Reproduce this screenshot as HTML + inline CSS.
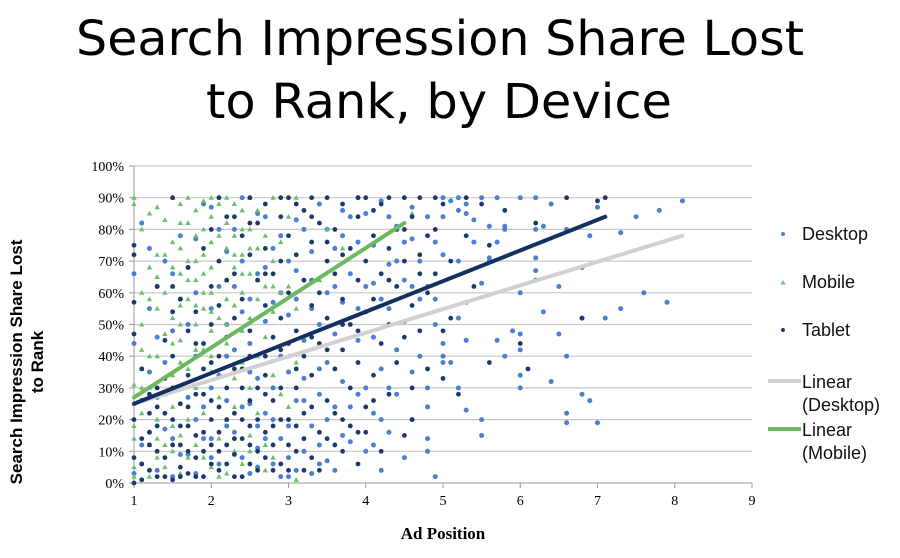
<!DOCTYPE html>
<html><head><meta charset="utf-8"><style>
html,body{margin:0;padding:0;background:#fff;width:900px;height:558px;overflow:hidden}
svg{display:block}
</style></head><body>
<svg id="chart" width="900" height="558" viewBox="0 0 900 558" xmlns="http://www.w3.org/2000/svg">
<g font-family="'DejaVu Sans','Liberation Sans',sans-serif" font-size="48" fill="#000" text-anchor="middle">
<text x="440" y="55" textLength="728" lengthAdjust="spacingAndGlyphs">Search Impression Share Lost</text>
<text x="439" y="118" textLength="466" lengthAdjust="spacingAndGlyphs">to Rank, by Device</text>
</g>
<g id="grid"></g>
<g id="axes"></g>
<g id="marks"></g>
<g id="trends"></g>
<g font-family="'Liberation Sans',sans-serif" font-weight="bold" font-size="17" text-anchor="middle">
<text transform="translate(22,362) rotate(-90)">Search Impression Share Lost</text>
<text transform="translate(43,362) rotate(-90)">to Rank</text>
</g>
<text x="443" y="539" font-family="'Liberation Serif',serif" font-weight="bold" font-size="17" text-anchor="middle">Ad Position</text>
<g id="legend" font-family="'Liberation Sans',sans-serif" font-size="18" fill="#111">
<g><circle cx="783" cy="234" r="2" fill="#4a7fd4"/><text x="802" y="240">Desktop</text></g>
<g><polygon points="783,280 785.5,284.5 780.5,284.5" fill="#6abf69"/><text x="802" y="288">Mobile</text></g>
<g><circle cx="783" cy="330" r="2" fill="#1b3a6b"/><text x="802" y="336">Tablet</text></g>
<g><line x1="768" y1="381" x2="801" y2="381" stroke="#d0d0d0" stroke-width="4"/><text x="802" y="388">Linear</text><text x="802" y="411">(Desktop)</text></g>
<g><line x1="768" y1="429" x2="801" y2="429" stroke="#6cb85e" stroke-width="4"/><text x="802" y="436">Linear</text><text x="802" y="459">(Mobile)</text></g>
</g>
</svg>
<script>
const xTicks=[1,2,3,4,5,6,7,8,9];
const yTicks=[0,10,20,30,40,50,60,70,80,90,100];
const desktopPoints=[[5.0,90],[5.1,89],[5.2,90],[5.3,88],[5.5,90],[5.7,90],[6.0,90],[6.2,90],[6.4,88],[7.0,87],[7.5,84],[7.8,86],[8.1,89],[7.3,79],[6.9,78],[6.6,80],[6.2,80],[6.3,81],[5.8,81],[5.8,80],[5.6,81],[5.0,84],[5.2,86],[5.3,85],[5.4,83],[5.6,71],[5.6,70],[6.2,71],[6.2,67],[6.2,64],[6.0,60],[5.7,76],[5.4,76],[5.2,70],[5.0,72],[5.5,63],[5.3,57],[6.3,54],[6.5,47],[7.3,55],[7.6,60],[7.9,57],[6.0,47],[6.0,42],[6.0,34],[5.9,48],[5.8,40],[5.0,44],[5.0,40],[5.0,38],[5.3,45],[5.1,38],[5.5,20],[5.5,15],[5.3,23],[6.0,30],[6.4,32],[6.8,28],[6.9,26],[7.0,19],[6.6,22],[6.6,19],[4.8,30],[4.8,24],[4.8,14],[4.8,10],[4.9,2],[4.5,8],[4.4,28],[4.3,30],[4.2,36],[4.1,46],[4.3,55],[4.5,64],[4.7,70],[4.6,77],[4.4,81],[4.2,89],[4.0,85],[3.9,76],[3.8,66],[3.7,57],[3.6,47],[3.5,38],[3.4,28],[3.3,18],[3.2,10],[3.1,4],[3.0,2],[2.8,6],[2.6,11],[2.5,3],[2.9,14],[2.7,22],[2.6,33],[2.5,44],[2.4,54],[2.3,62],[2.2,73],[2.1,80],[2.0,87],[1.8,77],[1.7,68],[1.6,58],[1.5,48],[1.4,38],[1.3,27],[1.2,16],[1.1,6],[1.0,3],[1.0,66],[1.1,82],[1.3,46],[1.5,14],[1.7,9],[1.9,24],[2.1,34],[2.3,42],[2.5,25],[2.7,51],[2.9,60],[3.1,67],[3.3,73],[3.5,80],[3.7,86],[3.9,90],[4.1,63],[4.3,69],[4.5,51],[4.7,40],[4.2,20],[3.8,13],[3.6,24],[3.4,36],[3.2,45],[3.0,53],[2.8,74],[2.6,85],[2.4,90],[2.2,18],[2.0,8],[1.8,40],[1.6,30],[1.4,70],[1.2,55],[3.0,35],[3.3,55],[3.6,62],[3.9,45],[4.0,30],[4.4,42],[4.6,35],[4.6,20],[4.9,58],[4.1,12],[3.7,32],[3.5,7],[2.9,40],[2.7,68],[3.1,83],[3.4,88],[4.6,87],[4.8,62],[4.9,50],[5.2,30],[5.2,52],[5.7,45],[6.6,40],[6.8,52],[7.1,52],[6.5,62],[6.8,68]];
const desktopExtra=[[1.0,44],[1.1,12],[1.2,35],[1.3,4],[1.4,17],[1.5,2],[1.6,9],[1.7,27],[1.8,3],[1.9,14],[2.0,30],[2.1,6],[2.2,40],[2.3,16],[2.4,24],[2.5,35],[2.6,5],[2.7,14],[2.8,30],[2.9,2],[3.0,18],[3.1,26],[3.2,33],[3.3,3],[3.4,12],[3.5,20],[3.6,4],[3.7,15],[3.8,24],[3.9,28],[4.0,10],[4.1,22],[4.2,4],[4.3,16],[2.0,55],[2.1,62],[2.2,50],[2.3,80],[2.4,70],[2.5,58],[2.6,66],[2.7,84],[2.8,57],[2.9,78],[3.0,70],[3.1,58],[3.2,80],[3.3,64],[3.4,50],[3.5,60],[3.6,74],[3.7,78],[3.8,84],[3.9,55],[4.0,62],[4.1,75],[4.2,58],[4.3,84],[4.4,70],[4.5,76],[4.6,62],[4.7,58],[4.8,84],[4.9,76],[1.5,66],[1.6,78],[1.7,50],[1.8,60],[1.9,88],[1.3,62],[1.2,74],[2.2,26],[2.6,18],[3.0,8],[3.4,6],[1.8,20],[2.0,14],[2.4,8],[2.8,20],[3.2,26]];
const mobilePoints=[[1.0,90],[1.0,88],[1.1,80],[1.2,85],[1.3,87],[1.5,90],[1.6,88],[1.7,90],[1.9,89],[2.0,90],[2.2,90],[2.3,88],[2.5,90],[2.6,86],[2.8,90],[3.0,84],[3.1,90],[1.0,31],[1.0,25],[1.0,18],[1.0,5],[1.0,2],[1.1,50],[1.1,42],[1.1,36],[1.2,40],[1.2,30],[1.2,12],[1.2,2],[1.3,72],[1.3,65],[1.3,55],[1.3,20],[1.3,8],[1.4,83],[1.4,60],[1.4,47],[1.4,28],[1.4,5],[1.5,76],[1.5,68],[1.5,62],[1.5,52],[1.5,34],[1.5,24],[1.5,10],[1.6,74],[1.6,66],[1.6,45],[1.6,38],[1.6,15],[1.6,3],[1.7,82],[1.7,70],[1.7,58],[1.7,20],[1.7,8],[1.8,86],[1.8,78],[1.8,64],[1.8,50],[1.8,30],[1.8,12],[1.9,72],[1.9,66],[1.9,55],[1.9,42],[1.9,22],[2.0,84],[2.0,76],[2.0,60],[2.0,48],[2.0,35],[2.0,5],[2.1,88],[2.1,70],[2.1,52],[2.1,27],[2.1,14],[2.2,82],[2.2,74],[2.2,64],[2.2,44],[2.2,20],[2.2,3],[2.3,78],[2.3,68],[2.3,56],[2.3,33],[2.3,10],[2.4,86],[2.4,72],[2.4,60],[2.4,48],[2.4,38],[2.4,6],[2.5,80],[2.5,66],[2.5,52],[2.5,30],[2.5,15],[2.6,74],[2.6,58],[2.6,40],[2.6,22],[2.7,78],[2.7,62],[2.7,46],[2.7,12],[2.8,70],[2.8,54],[2.8,34],[2.8,8],[2.9,76],[2.9,60],[2.9,28],[3.0,62],[3.0,40],[3.0,24],[3.1,55],[3.1,38],[3.1,1],[3.4,64],[3.5,80],[3.7,74],[4.6,85],[1.1,60],[1.2,68],[2.0,68],[1.9,80]];
const mobileExtra=[[1.0,14],[1.1,22],[1.2,58],[1.3,40],[1.4,72],[1.5,44],[1.6,56],[1.7,64],[1.8,70],[1.9,60],[2.0,54],[2.1,78],[2.2,58],[2.3,72],[2.4,66],[2.5,74],[1.6,82],[1.8,56],[2.0,40],[1.7,36],[1.5,18],[1.4,12],[1.9,8],[2.1,2],[2.3,24],[2.5,10],[2.7,4],[1.1,30],[1.3,14],[2.6,64],[2.8,62],[2.4,80],[2.2,50],[1.6,50],[1.8,42]];
const tabletPoints=[[1.0,75],[1.0,72],[1.0,57],[1.0,47],[1.0,0],[1.1,26],[1.1,14],[1.1,1],[1.2,22],[1.2,12],[1.2,4],[1.3,30],[1.3,18],[1.3,2],[1.4,45],[1.4,33],[1.4,8],[1.5,90],[1.5,62],[1.5,40],[1.5,20],[1.5,1],[1.6,58],[1.6,25],[1.6,12],[1.6,5],[1.7,68],[1.7,34],[1.7,18],[1.7,3],[1.8,54],[1.8,44],[1.8,15],[1.8,8],[1.9,74],[1.9,28],[1.9,10],[1.9,2],[2.0,62],[2.0,50],[2.0,38],[2.0,20],[2.0,6],[2.1,70],[2.1,56],[2.1,16],[2.1,4],[2.2,84],[2.2,64],[2.2,46],[2.2,30],[2.2,12],[2.3,66],[2.3,52],[2.3,22],[2.3,9],[2.4,78],[2.4,58],[2.4,36],[2.4,14],[2.4,2],[2.5,90],[2.5,72],[2.5,48],[2.5,18],[2.5,6],[2.6,82],[2.6,64],[2.6,30],[2.6,10],[2.7,88],[2.7,74],[2.7,56],[2.7,40],[2.7,16],[2.8,66],[2.8,46],[2.8,26],[2.8,4],[2.9,84],[2.9,70],[2.9,52],[2.9,20],[3.0,90],[3.0,78],[3.0,60],[3.0,44],[3.0,12],[3.1,72],[3.1,48],[3.1,30],[3.2,86],[3.2,64],[3.2,40],[3.2,22],[3.3,90],[3.3,76],[3.3,56],[3.3,34],[3.3,8],[3.4,82],[3.4,60],[3.4,44],[3.4,16],[3.5,90],[3.5,70],[3.5,52],[3.5,26],[3.6,80],[3.6,66],[3.6,36],[3.6,12],[3.7,88],[3.7,58],[3.7,42],[3.7,20],[3.8,74],[3.8,50],[3.8,30],[3.9,84],[3.9,64],[3.9,38],[3.9,16],[4.0,90],[4.0,70],[4.0,54],[4.0,24],[4.1,78],[4.1,58],[4.1,34],[4.2,88],[4.2,66],[4.2,44],[4.3,90],[4.3,74],[4.3,50],[4.3,28],[4.4,80],[4.4,62],[4.4,38],[4.5,90],[4.5,70],[4.5,46],[4.6,84],[4.6,56],[4.6,30],[4.7,90],[4.7,72],[4.7,48],[4.8,78],[4.8,60],[4.8,36],[4.9,90],[4.9,66],[5.0,88],[5.0,48],[5.0,33],[5.1,70],[5.1,52],[5.3,90],[5.3,78],[5.4,62],[5.5,88],[5.6,75],[5.8,86],[6.0,44],[6.1,36],[6.2,82],[6.6,90],[6.8,52],[7.0,89],[7.1,90],[4.5,15],[4.2,10],[3.9,6],[4.6,20],[5.2,28],[5.6,38]];
const tabletExtra=[[1.0,20],[1.0,8],[1.1,36],[1.1,6],[1.2,28],[1.2,16],[1.3,10],[1.3,24],[1.4,2],[1.4,22],[1.5,12],[1.5,30],[1.6,18],[1.6,2],[1.7,10],[1.7,24],[1.8,2],[1.8,28],[1.9,16],[1.9,36],[2.0,12],[2.0,26],[2.1,10],[2.1,24],[2.2,6],[2.2,20],[2.3,2],[2.3,14],[2.4,20],[2.4,30],[2.5,12],[2.5,26],[2.6,4],[2.6,20],[2.7,8],[2.7,28],[2.8,12],[2.8,18],[2.9,6],[2.9,30],[3.0,4],[3.0,20],[3.1,10],[3.1,18],[3.2,4],[3.2,14],[3.3,24],[3.4,4],[3.5,14],[3.6,22],[3.7,10],[3.8,18],[4.0,16],[4.1,26],[2.0,80],[2.1,90],[2.3,84],[2.5,82],[2.7,66],[2.9,90],[3.1,88],[3.3,84],[3.5,76],[3.7,72],[3.9,90],[4.1,86],[4.3,64],[4.5,80],[4.7,66],[4.9,80],[1.3,62],[1.5,54],[1.7,48],[1.9,44],[2.1,40],[2.3,36],[2.5,40],[2.7,34],[2.9,42],[3.1,36],[3.3,46],[3.5,42],[3.7,50],[3.9,48]];
const trendDesktop=[[1,25],[8.1,78]];
const trendTablet=[[1,25],[7.1,84]];
const trendMobile=[[1,27],[4.5,82]];

const NS="http://www.w3.org/2000/svg";
const X0=134,X1=752,Y0=483,Y1=166;
function sx(v){return X0+(v-1)/(9-1)*(X1-X0);}
function sy(v){return Y0-v/100*(Y0-Y1);}
function mk(tag,attrs,parent){const e=document.createElementNS(NS,tag);for(const k in attrs)e.setAttribute(k,attrs[k]);parent.appendChild(e);return e;}
const grid=document.getElementById('grid'),axes=document.getElementById('axes'),marks=document.getElementById('marks'),trends=document.getElementById('trends');
yTicks.forEach(t=>{
  if(t>0){const g=mk('line',{x1:X0,x2:X1,y1:sy(t),y2:sy(t),stroke:'#c8c8c8','stroke-width':1.2},grid);
  
  }
  const tl=mk('line',{x1:X0-5,x2:X0,y1:sy(t),y2:sy(t),stroke:'#999'},axes);
  
  
  const tx=mk('text',{x:X0-10,y:sy(t)+5,'text-anchor':'end','font-family':"'Liberation Serif',serif",'font-size':14},axes);
  tx.textContent=t+'%';
  
  
});
const ya=mk('line',{x1:X0,x2:X0,y1:Y1,y2:Y0,stroke:'#999'},axes);


const xa=mk('line',{x1:X0,x2:X1,y1:Y0,y2:Y0,stroke:'#999'},axes);


xTicks.forEach(t=>{
  const tl=mk('line',{x1:sx(t),x2:sx(t),y1:Y0,y2:Y0+5,stroke:'#999'},axes);
  
  
  const tx=mk('text',{x:sx(t),y:Y0+22,'text-anchor':'middle','font-family':"'Liberation Serif',serif",'font-size':14},axes);
  tx.textContent=t;
  
  
});
desktopPoints.concat(desktopExtra).forEach(p=>{
  const c=mk('circle',{cx:sx(p[0]),cy:sy(p[1]),r:2.5,fill:'#4a7fd4'},marks);
  
  
});
mobilePoints.concat(mobileExtra).forEach(p=>{
  const x=sx(p[0]),y=sy(p[1]);
  const c=mk('polygon',{points:`${x},${y-2.8} ${x+2.7},${y+2} ${x-2.7},${y+2}`,fill:'#6abf69'},marks);
  
  
});
tabletPoints.concat(tabletExtra).forEach(p=>{
  const c=mk('circle',{cx:sx(p[0]),cy:sy(p[1]),r:2.4,fill:'#1b3a6b'},marks);
  
  
});
function trend(d,color,name){
  const l=mk('line',{x1:sx(d[0][0]),y1:sy(d[0][1]),x2:sx(d[1][0]),y2:sy(d[1][1]),stroke:color,'stroke-width':4,'stroke-linecap':'round'},trends);
  
  
}
trend(trendDesktop,'#d0d0d0','trend-desktop');
trend(trendMobile,'#6cb85e','trend-mobile');
trend(trendTablet,'#14305e','trend-tablet');
</script>
</body></html>
